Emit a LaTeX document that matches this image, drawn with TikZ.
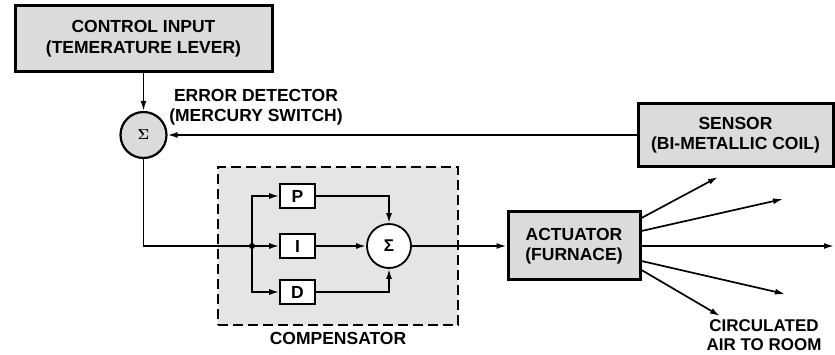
\documentclass[tikz,border=0pt]{standalone}
\usepackage{fontspec}
\setmainfont{Liberation Sans}
\usetikzlibrary{arrows.meta,calc}
\definecolor{boxgray}{gray}{0.86}
\definecolor{compgray}{gray}{0.90}
\begin{document}
\begin{tikzpicture}[x=1pt,y=-1pt,
  txt/.style={font=\fontsize{17.5}{20.5}\selectfont\bfseries, align=center, inner sep=0pt},
  heavybox/.style={txt, draw, line width=3pt, fill=boxgray},
  smallbox/.style={txt, draw, line width=1.6pt, fill=white, minimum width=35pt, minimum height=24pt},
  line/.style={line width=1.7pt},
  conn/.style={line, -{Latex[length=10pt,width=6pt]}},
  sumnode/.style={circle, draw, line width=1.8pt, inner sep=0pt}
]
\useasboundingbox (0,0) rectangle (835,355);

% compensator (background)
\node[draw, dash pattern=on 10pt off 5pt, line width=2.8pt, fill=compgray,
      minimum width=240pt, minimum height=158pt, inner sep=0pt] (comp) at (338,246) {};
\node[txt, below=6pt] (complbl) at (comp.south) {COMPENSATOR};

% main blocks
\node[heavybox, minimum width=257pt, minimum height=66pt] (ci) at (143.5,38.5)
  {CONTROL INPUT\\(TEMERATURE LEVER)};
\node[heavybox, minimum width=195pt, minimum height=63pt] (sensor) at (735.5,135)
  {SENSOR\\(BI-METALLIC COIL)};
\node[heavybox, minimum width=132pt, minimum height=68pt] (act) at (574,246)
  {ACTUATOR\\(FURNACE)};

\node[sumnode, fill=boxgray, minimum size=46pt, line width=2.2pt, font=\fontsize{15}{15}\selectfont\boldmath] (err) at (143.5,135) {$\Sigma$};
\node[txt] (errlbl) at (256,107) {ERROR DETECTOR\\(MERCURY SWITCH)};

% PID
\node[smallbox] (P) at (297.5,196) {P};
\node[smallbox] (I) at (297.5,246) {I};
\node[smallbox] (D) at (297.5,292) {D};
\node[sumnode, fill=white, minimum size=44pt, font=\fontsize{17}{17}\selectfont\bfseries] (sum) at (389,246) {Σ};
\coordinate (jn) at (252,246);

% connectors
\draw[conn] (ci.south) -- (err.north);
\draw[conn] (sensor.west) -- (err.east);
\draw[line] (err.south) |- (jn);
\fill (jn) circle (3pt);
\draw[conn] (jn) -- (I.west);
\draw[conn] (jn) |- (P.west);
\draw[conn] (jn) |- (D.west);
\draw[conn] (I.east) -- (sum.west);
\draw[conn] (P.east) -| (sum.north);
\draw[conn] (D.east) -| (sum.south);
\draw[conn] (sum.east) -- (act.west);

% air outputs
\coordinate (s1) at ($(act.east)+(0,-28)$);
\coordinate (s2) at ($(act.east)+(0,-15)$);
\coordinate (s3) at (act.east);
\coordinate (s4) at ($(act.east)+(0,15)$);
\coordinate (s5) at ($(act.east)+(0,24)$);
\coordinate (e1) at (718,177);
\coordinate (e2) at (783,199);
\coordinate (e3) at (834,246);
\coordinate (e4) at (785,294);
\coordinate (e5) at (720,316);
\foreach \i in {1,...,5} \draw[conn] (s\i) -- (e\i);

\node[txt, font=\fontsize{17}{19}\selectfont\bfseries] (airlbl) at (764,335) {CIRCULATED\\AIR TO ROOM};
\end{tikzpicture}
\end{document}
